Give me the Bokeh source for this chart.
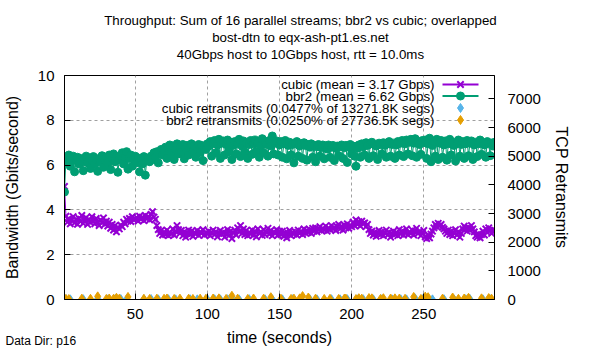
from bokeh.plotting import figure
from bokeh.models import Range1d, LinearAxis, FixedTicker, Label, Title
from bokeh.embed import file_html
from bokeh.resources import INLINE

# ---------------- data ----------------
time_s = list(range(1, 300))

cubic_gbps = [
    5.05, 3.72, 3.45, 3.60, 3.38, 3.55, 3.70, 3.42, 3.58, 3.36,
    3.62, 3.48, 3.75, 3.40, 3.52, 3.66, 3.35, 3.58, 3.44, 3.70,
    3.50, 3.38, 3.62, 3.46, 3.30, 3.55, 3.42, 3.64, 3.36, 3.50,
    3.28, 3.45, 3.18, 3.35, 3.10, 3.30, 3.02, 3.22, 3.15, 3.32,
    3.25, 3.45, 3.38, 3.58, 3.50, 3.62, 3.48, 3.70, 3.55, 3.60,
    3.66, 3.50, 3.72, 3.58, 3.68, 3.52, 3.75, 3.60, 3.70, 3.55,
    3.80, 3.92, 3.68, 3.58, 3.30, 3.12, 2.95, 3.08, 2.88, 3.02,
    2.90, 3.10, 2.85, 3.00, 2.92, 3.15, 2.88, 3.05, 3.30, 3.12,
    2.95, 3.08, 2.85, 3.02, 2.78, 2.95, 3.10, 2.90, 3.05, 2.82,
    3.00, 2.92, 3.08, 2.86, 3.02, 2.95, 3.12, 2.88, 3.00, 2.92,
    3.05, 2.85, 2.98, 3.10, 2.90, 3.02, 2.80, 2.95, 3.08, 2.92,
    3.00, 2.78, 2.95, 3.12, 2.85, 3.05, 2.72, 2.98, 3.10, 2.88,
    3.20, 3.02, 3.30, 2.95, 3.15, 2.90, 3.08, 2.85, 3.00, 2.92,
    3.10, 2.88, 3.05, 2.80, 3.15, 2.95, 3.02, 2.86, 3.12, 2.90,
    3.00, 3.18, 2.92, 3.08, 2.85, 3.02, 2.95, 3.12, 2.88, 3.05,
    2.90, 3.05, 2.82, 2.98, 2.75, 2.95, 3.08, 2.85, 3.00, 2.92,
    3.02, 2.88, 3.10, 2.95, 3.05, 2.90, 3.15, 2.98, 3.08, 3.00,
    3.12, 2.95, 3.18, 3.05, 3.20, 3.02, 3.15, 3.25, 3.08, 3.18,
    3.10, 3.28, 3.05, 3.20, 3.12, 3.30, 3.15, 3.22, 3.08, 3.25,
    3.35, 3.15, 3.28, 3.10, 3.32, 3.20, 3.38, 3.18, 3.30, 3.25,
    3.45, 3.30, 3.55, 3.35, 3.48, 3.28, 3.50, 3.38, 3.42, 3.25,
    3.35, 3.12, 2.95, 3.05, 2.88, 3.00, 2.82, 2.95, 3.08, 2.90,
    3.02, 2.85, 2.98, 3.10, 2.88, 3.00, 2.78, 2.95, 3.05, 2.90,
    3.00, 2.85, 3.12, 2.92, 3.05, 2.88, 2.98, 3.15, 2.90, 3.02,
    2.95, 3.10, 2.88, 3.05, 3.18, 2.95, 3.02, 2.85, 2.98, 3.08,
    2.80, 2.72, 2.88, 2.75, 2.92, 3.05, 3.20, 3.35, 3.25, 3.40,
    3.28, 3.35, 3.22, 3.15, 3.05, 2.95, 3.10, 2.90, 3.05, 2.85,
    2.98, 3.12, 2.88, 3.02, 2.78, 2.95, 3.15, 3.28, 3.18, 3.05,
    3.22, 3.10, 3.30, 3.15, 3.02, 2.85, 2.78, 2.92, 2.75, 2.90,
    3.05, 2.88, 3.15, 3.00, 3.20, 3.08, 2.95, 3.12, 3.05,
]

bbr2_gbps = [
    4.80, 6.30, 6.10, 6.45, 5.95, 6.25, 6.40, 5.70, 6.20, 6.35,
    6.05, 6.30, 6.15, 5.75, 6.28, 6.40, 6.10, 6.32, 5.85, 6.20,
    6.38, 6.05, 6.25, 5.72, 6.30, 6.15, 6.42, 5.90, 6.22, 6.35,
    6.10, 6.45, 5.80, 6.30, 6.50, 6.15, 6.38, 5.68, 6.25, 6.42,
    6.55, 6.05, 6.35, 6.60, 5.82, 6.30, 6.45, 5.95, 6.28, 6.40,
    6.10, 6.32, 5.70, 6.25, 6.05, 6.38, 5.55, 6.20, 6.30, 6.15,
    6.40, 6.25, 6.55, 6.35, 6.60, 6.10, 6.50, 6.70, 6.45, 6.65,
    6.80, 6.30, 6.75, 6.90, 6.55, 6.85, 6.25, 6.70, 6.95, 6.50,
    6.80, 6.60, 6.92, 6.28, 6.75, 6.88, 6.45, 6.82, 6.95, 6.60,
    6.85, 6.35, 6.78, 6.92, 6.55, 6.88, 6.20, 6.80, 6.70, 6.95,
    6.85, 7.05, 6.40, 6.95, 7.10, 6.55, 6.90, 7.15, 6.30, 6.98,
    7.08, 6.45, 6.92, 7.12, 6.60, 7.02, 6.25, 6.88, 7.05, 6.50,
    6.95, 7.15, 6.38, 6.85, 7.08, 6.58, 6.98, 6.30, 6.92, 7.10,
    6.48, 6.95, 7.12, 6.62, 7.00, 6.35, 6.88, 7.18, 6.55, 7.05,
    6.92, 6.40, 7.10, 6.85, 7.30, 6.50, 6.98, 7.08, 6.45, 6.90,
    7.05, 6.35, 6.95, 7.10, 6.28, 6.88, 7.02, 6.45, 6.92, 6.10,
    6.98, 7.05, 6.40, 6.85, 6.95, 6.30, 7.00, 6.88, 6.22, 6.92,
    6.80, 6.95, 6.35, 6.88, 6.15, 6.82, 6.92, 6.40, 6.78, 6.90,
    6.28, 6.85, 6.72, 6.90, 6.35, 6.80, 6.88, 6.20, 6.75, 6.85,
    6.42, 6.82, 6.90, 6.30, 6.78, 6.88, 6.12, 6.80, 6.92, 6.50,
    6.85, 6.40, 5.95, 6.75, 6.90, 6.35, 6.95, 6.82, 6.45, 7.00,
    6.88, 6.30, 6.95, 7.02, 6.42, 6.90, 6.85, 6.25, 6.98, 6.92,
    6.50, 7.00, 6.88, 6.35, 6.95, 7.05, 6.40, 6.92, 6.98, 6.30,
    6.90, 7.05, 6.45, 6.98, 7.10, 6.38, 6.95, 7.12, 6.50, 7.02,
    7.15, 6.42, 6.98, 7.18, 6.35, 7.05, 6.92, 6.48, 7.10, 7.00,
    7.12, 6.30, 6.95, 7.20, 6.15, 6.88, 7.05, 6.40, 7.15, 6.25,
    6.98, 7.10, 6.35, 6.90, 7.08, 6.22, 6.95, 7.15, 6.45, 7.02,
    6.88, 6.18, 6.98, 7.12, 6.40, 6.92, 7.05, 6.30, 6.95, 7.10,
    6.42, 6.98, 7.08, 6.25, 6.90, 7.02, 6.38, 6.95, 7.12, 6.48,
    7.00, 6.90, 6.35, 7.05, 6.95, 6.42, 6.98, 6.85, 7.02,
]

cubic_retx_t = [2, 5, 14, 24, 31, 36, 40, 44, 56, 61, 66, 73, 78, 88, 93, 100,
                105, 109, 114, 117, 122, 129, 140, 145, 152, 159, 165, 171, 176,
                186, 192, 197, 204, 208, 215, 221, 228, 234, 238, 244, 249, 252,
                256, 264, 271, 279, 282, 291, 296]
cubic_retx = [10, 5, 10, 40, 5, 10, 15, 5, 10, 15, 5, 10, 5, 10, 5, 15,
              10, 5, 10, 70, 5, 10, 5, 10, 5, 10, 5, 10, 5,
              10, 5, 10, 5, 10, 5, 10, 5, 10, 5, 40, 10, 30,
              5, 10, 5, 10, 15, 5, 10]

bbr2_retx_t = [2, 4, 13, 19, 24, 30, 32, 35, 37, 39, 45, 56, 60, 65, 70, 72, 77,
               81, 87, 90, 95, 99, 104, 108, 113, 117, 121, 128, 132, 139, 144,
               151, 158, 160, 164, 166, 170, 175, 181, 185, 191, 195, 196, 203,
               205, 207, 212, 214, 220, 222, 227, 230, 233, 237, 243, 248, 251,
               253, 263, 270, 274, 278, 281, 290, 295, 297]
bbr2_retx = [20, 15, 30, 25, 110, 20, 35, 25, 60, 30, 90, 25, 20, 30, 25, 35, 20,
             30, 25, 20, 30, 25, 35, 40, 20, 130, 30, 20, 35, 30, 80,
             25, 20, 30, 40, 120, 70, 30, 20, 25, 20, 35, 30, 15,
             45, 30, 50, 40, 20, 45, 35, 40, 30, 25, 90, 20, 100,
             80, 30, 70, 25, 35, 60, 40, 50, 25]

title_lines = [
    "Throughput: Sum of 16 parallel streams; bbr2 vs cubic; overlapped",
    "bost-dtn to eqx-ash-pt1.es.net",
    "40Gbps host to 10Gbps host, rtt = 10.0ms",
]
legend_labels = [
    "cubic (mean = 3.17 Gbps)",
    "bbr2 (mean = 6.62 Gbps)",
    "cubic retransmits (0.0477% of 13271.8K segs)",
    "bbr2 retransmits (0.0250% of 27736.5K segs)",
]
x_ticks = [50, 100, 150, 200, 250]
y_ticks = [0, 2, 4, 6, 8, 10]
y2_ticks = [0, 1000, 2000, 3000, 4000, 5000, 6000, 7000]
data_dir = "Data Dir: p16"

# ---------------- layout / style ----------------
FONT = "Liberation Sans"
W, H = 600, 350
FL, FR, FT, FB = 64, 494, 75, 299
X0, X1 = 1, 299
Y0, Y1 = 0, 10
Y2MAX = 7820
TITLE_PX = 13.3

C_CUBIC = "#9400d3"
C_BBR2 = "#009e73"
C_CRETX = "#56b4e9"
C_BRETX = "#e69f00"

# Arial / Liberation Sans advance widths (per 1000 em), used to centre the
# title lines on the canvas as gnuplot does.
_AW = {" ": 278, ",": 278, "-": 333, ".": 278, ":": 278, ";": 278, "=": 584,
       "G": 778, "S": 667, "T": 611, "f": 278, "i": 222, "l": 222, "m": 833,
       "r": 333, "t": 278, "s": 500, "c": 500, "v": 500, "x": 500}


def text_width(s, size):
    return sum(_AW.get(ch, 556) for ch in s) * size / 1000.0


def px_x(px):
    return X0 + (px - FL) * (X1 - X0) / (FR - FL)


def px_y(py):
    return Y0 + (FB - py) * (Y1 - Y0) / (FB - FT)


p = figure(width=W, height=H, x_range=Range1d(X0, X1), y_range=Range1d(Y0, Y1),
           output_backend="svg", toolbar_location=None,
           min_border_left=FL, min_border_right=W - FR,
           min_border_top=FT, min_border_bottom=H - FB)
p.extra_y_ranges = {"retx": Range1d(0, Y2MAX)}
p.outline_line_color = "black"
p.outline_line_width = 1
p.background_fill_color = "white"
p.border_fill_color = "white"


def style_axis(ax, label_standoff, axis_label_standoff):
    ax.major_tick_in = 6
    ax.major_tick_out = 0
    ax.minor_tick_in = 0
    ax.minor_tick_out = 0
    ax.axis_line_color = "black"
    ax.major_tick_line_color = "black"
    ax.major_label_text_font = FONT
    ax.major_label_text_font_size = "15px"
    ax.major_label_text_color = "black"
    ax.major_label_standoff = label_standoff
    ax.axis_label_text_font = FONT
    ax.axis_label_text_font_size = "16px"
    ax.axis_label_text_font_style = "normal"
    ax.axis_label_text_color = "black"
    ax.axis_label_standoff = axis_label_standoff


p.xaxis[0].ticker = FixedTicker(ticks=x_ticks)
p.xaxis[0].axis_label = "time (seconds)"
style_axis(p.xaxis[0], 9, 7)

p.yaxis[0].ticker = FixedTicker(ticks=y_ticks)
p.yaxis[0].axis_label = "Bandwidth (Gbits/second)"
style_axis(p.yaxis[0], 10, 14)

ax2 = LinearAxis(y_range_name="retx", ticker=FixedTicker(ticks=y2_ticks),
                 axis_label="TCP Retransmits")
style_axis(ax2, 13, 9)
p.add_layout(ax2, "right")

# grid
p.xgrid.ticker = FixedTicker(ticks=x_ticks)
p.ygrid.ticker = FixedTicker(ticks=[2, 4, 6, 8])
for g in (p.xgrid[0], p.ygrid[0]):
    g.grid_line_color = "#a0a0a0"
    g.grid_line_dash = "3 3"
    g.grid_line_width = 1

# data series
p.line(time_s, cubic_gbps, line_color=C_CUBIC, line_width=1)
p.scatter(time_s, cubic_gbps, marker="x", size=9, line_color=C_CUBIC, line_width=2)
p.line(time_s, bbr2_gbps, line_color=C_BBR2, line_width=1)
p.scatter(time_s, bbr2_gbps, marker="circle", size=8, fill_color=C_BBR2,
          line_color=C_BBR2)
p.scatter(cubic_retx_t, cubic_retx, marker="diamond", size=9, fill_color=C_CRETX,
          line_color=C_CRETX, y_range_name="retx")
p.scatter(bbr2_retx_t, bbr2_retx, marker="diamond", size=9, fill_color=C_BRETX,
          line_color=C_BRETX, y_range_name="retx")

# legend (gnuplot style: text then sample)
rows_py = [84, 95.5, 107.5, 119.5]
for lbl, py in zip(legend_labels, rows_py):
    p.add_layout(Label(x=px_x(434), y=px_y(py), text=lbl, text_align="right",
                       text_baseline="middle", text_font=FONT,
                       text_font_size="13.3px", text_color="black"))
key_x0, key_x1, key_xm = px_x(442), px_x(478), px_x(460)
p.segment([key_x0], [px_y(rows_py[0])], [key_x1], [px_y(rows_py[0])],
          line_color=C_CUBIC, line_width=2)
p.scatter([key_xm], [px_y(rows_py[0])], marker="x", size=9, line_color=C_CUBIC,
          line_width=2)
p.segment([key_x0], [px_y(rows_py[1])], [key_x1], [px_y(rows_py[1])],
          line_color=C_BBR2, line_width=2)
p.scatter([key_xm], [px_y(rows_py[1])], marker="circle", size=8,
          fill_color=C_BBR2, line_color=C_BBR2)
p.scatter([key_xm], [px_y(rows_py[2])], marker="diamond", size=9,
          fill_color=C_CRETX, line_color=C_CRETX)
p.scatter([key_xm], [px_y(rows_py[3])], marker="diamond", size=9,
          fill_color=C_BRETX, line_color=C_BRETX)

# "Data Dir" note: placed in the top side panel (nearest the frame) so it is
# not clipped; its text is positioned in the bottom-left corner.
p.add_layout(Label(x=px_x(5), y=px_y(340), text=data_dir, text_align="left",
                   text_baseline="middle", text_font=FONT,
                   text_font_size="12px", text_color="black"), "above")

# titles (added nearest-to-frame first), centred on the canvas
for line in reversed(title_lines):
    left = W / 2 - text_width(line, TITLE_PX) / 2
    p.add_layout(Title(text=line, align="left", offset=left - FL,
                       text_font=FONT, text_font_size=f"{TITLE_PX}px",
                       text_font_style="normal", text_color="black",
                       standoff=0),
                 "above")

open("out.html", "w").write(file_html(p, INLINE))
